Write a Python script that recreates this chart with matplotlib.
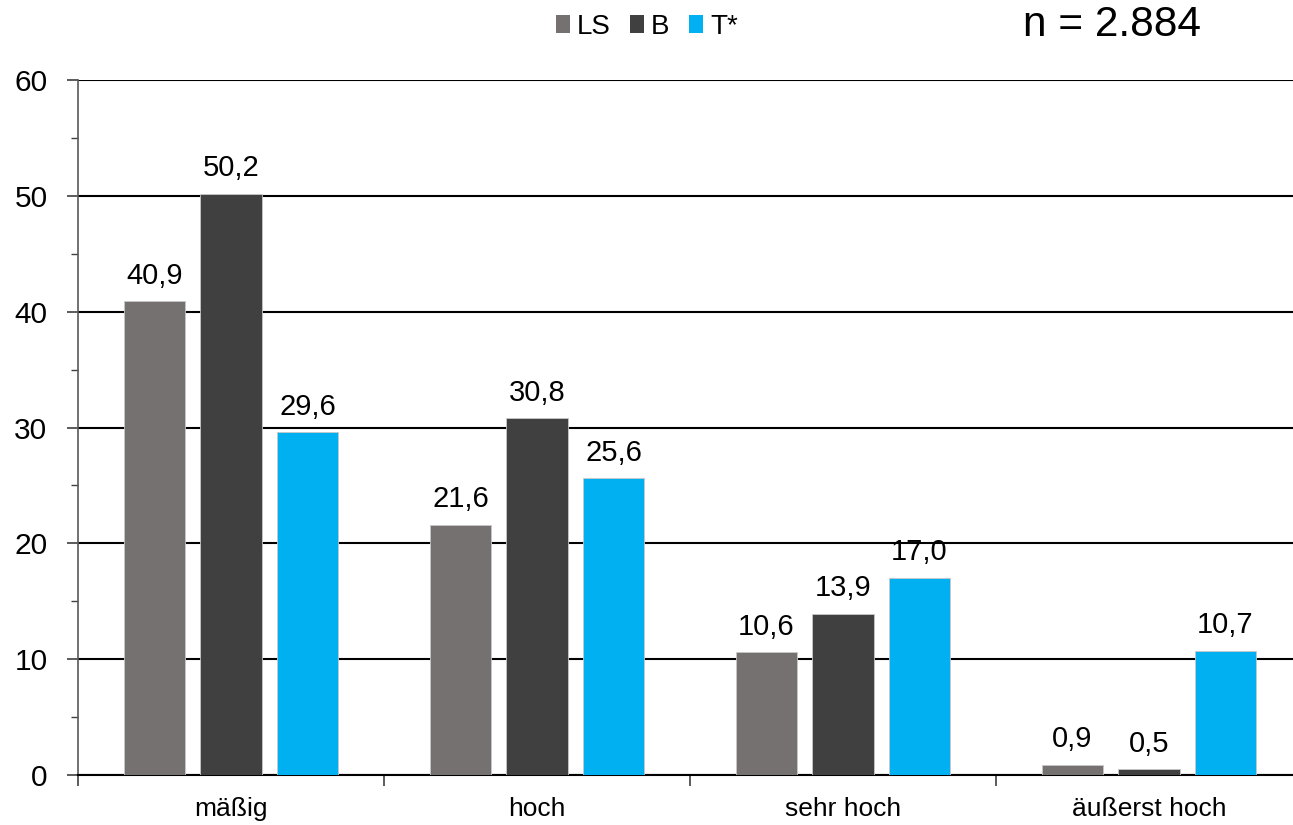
import numpy as np
import matplotlib.pyplot as plt
from matplotlib.patches import Patch
from matplotlib.ticker import MultipleLocator, FixedLocator

plt.rcParams['font.family'] = ['Liberation Sans', 'DejaVu Sans']

# Data
categories = ['mäßig', 'hoch', 'sehr hoch', 'äußerst hoch']
series_names = ['LS', 'B', 'T*']
ls_values = [40.9, 21.6, 10.6, 0.9]
b_values = [50.2, 30.8, 13.9, 0.5]
t_values = [29.6, 25.6, 17.0, 10.7]
colors = ['#767171', '#404040', '#00B0F0']

fig = plt.figure(figsize=(12.93, 8.25), dpi=100)
# axes runs a little past the right edge, like the original
ax = fig.add_axes([78 / 1293, 1 - 775 / 825, 1224 / 1293, 695 / 825])

x = np.arange(len(categories))
width = 0.2
step = 0.25
for i, (vals, col) in enumerate(zip([ls_values, b_values, t_values], colors)):
    pos = x + (i - 1) * step
    ax.bar(pos, vals, width, color=col, edgecolor='#c8c8c8', linewidth=0.6, zorder=3)
    for xp, v in zip(pos, vals):
        ax.text(xp, v + 1.0, f'{v:.1f}'.replace('.', ','), ha='center', va='bottom',
                fontsize=21, zorder=4)

ax.set_xlim(-0.5, 3.5)
ax.set_ylim(0, 60)
ax.yaxis.set_major_locator(MultipleLocator(10))
ax.yaxis.set_minor_locator(MultipleLocator(5))
ax.grid(axis='y', which='major', color='black', linewidth=1.5, zorder=0)

ax.set_xticks(x)
ax.set_xticklabels(categories, fontsize=19)
ax.xaxis.set_minor_locator(FixedLocator([-0.5, 0.5, 1.5, 2.5, 3.5]))
ax.tick_params(axis='x', which='major', length=0, pad=16)
ax.tick_params(axis='x', which='minor', length=8, width=1.2, direction='out', color='#404040')
ax.tick_params(axis='y', which='major', length=8, width=1.2, labelsize=21.5, pad=14, color='#404040')
ax.tick_params(axis='y', which='minor', length=5, width=1.0, color='#404040')

for s in ['top', 'right']:
    ax.spines[s].set_visible(False)
ax.spines['left'].set_color('#595959')
ax.spines['left'].set_linewidth(1.2)
ax.spines['bottom'].set_color('black')
ax.spines['bottom'].set_linewidth(1.5)

handles = [Patch(facecolor=c, edgecolor='none') for c in colors]
fig.legend(handles, series_names, loc='center', bbox_to_anchor=(647 / 1293, 1 - 27 / 825),
           ncol=3, frameon=False, fontsize=20, handlelength=0.5, handleheight=0.6,
           handletextpad=0.25, columnspacing=0.7)

fig.text(1112 / 1293, 1 - 25 / 825, 'n = 2.884', ha='center', va='center', fontsize=30.5)

fig.savefig('out.png', dpi=100)
